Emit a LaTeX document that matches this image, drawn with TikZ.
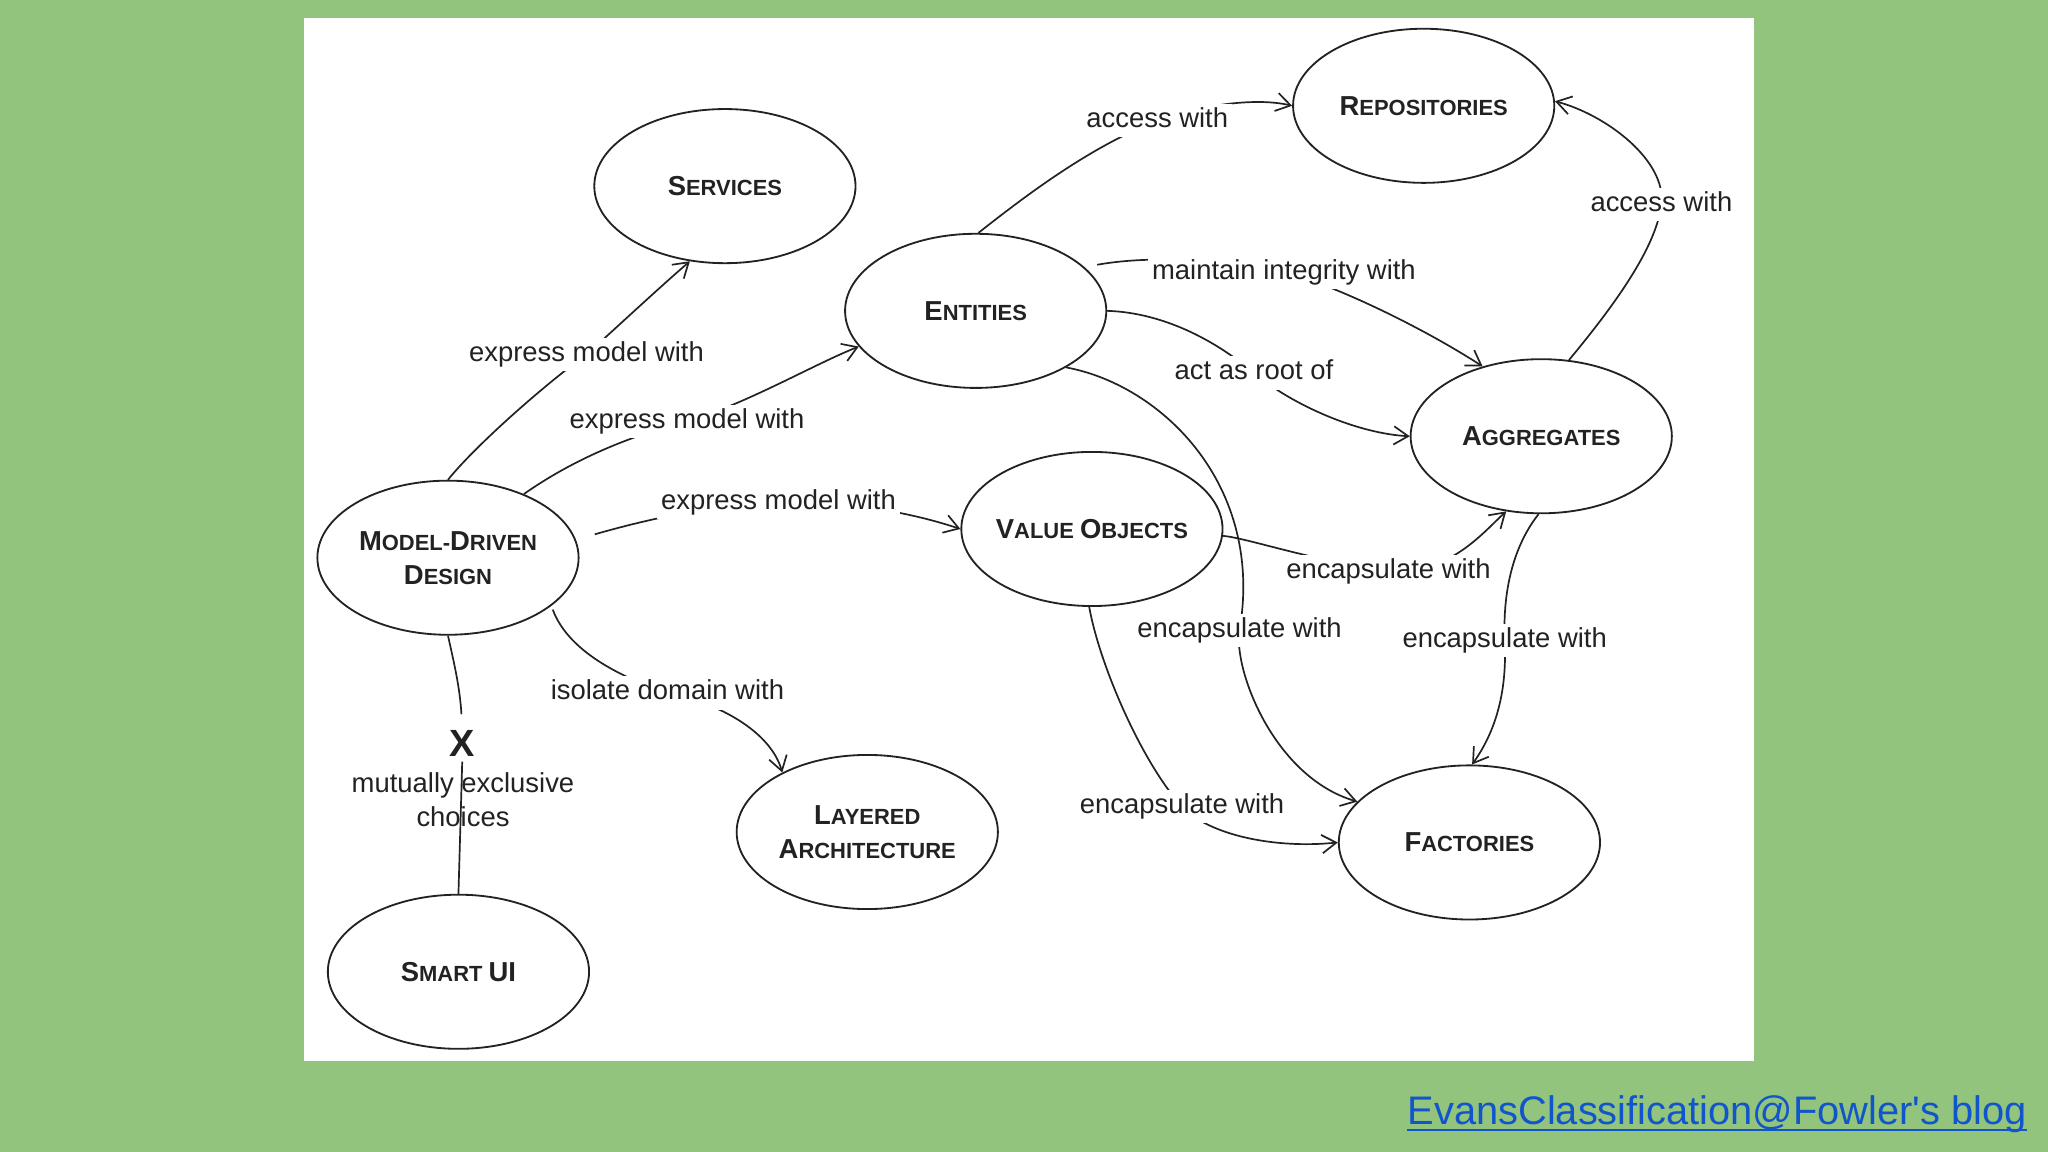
\documentclass[tikz,border=0pt]{standalone}
\usepackage{fontspec}
\setmainfont{Liberation Sans}
\newfontfamily\plainsans{Liberation Sans}
\usetikzlibrary{arrows.meta,shapes.geometric}
\definecolor{bggreen}{HTML}{93C47D}
\definecolor{linkblue}{HTML}{1155CC}
\definecolor{ink}{HTML}{222222}
\newcommand{\Sc}[2]{{\fontsize{21}{26}\selectfont #1}{\fontsize{16.8}{26}\selectfont #2}}
\begin{document}
\begin{tikzpicture}[x=1pt,y=-1pt,
  concept/.style={ellipse, draw=ink, line width=1.4pt, minimum width=200pt, minimum height=118pt,
    inner xsep=-8pt, inner ysep=0pt, align=center, font=\bfseries\fontsize{16.8}{26}\selectfont, text=ink},
  lbl/.style={fill=white, inner sep=3pt, text height=15pt, text depth=4.5pt,
    font=\fontsize{21}{26}\selectfont, text=ink},
  conn/.style={draw=ink, line width=1.3pt},
  arr/.style={conn, -{Straight Barb[length=11pt,width=14pt,line width=1.3pt]}}
]
\useasboundingbox (0,0) rectangle (1568,882);
\fill[bggreen] (0,0) rectangle (1568,882);
\fill[white] (233,14) rectangle (1343,812);

% concepts
\node[concept] (services) at (555,142.5) {\Sc{S}{ERVICES}};
\node[concept] (entities) at (747,238) {\Sc{E}{NTITIES}};
\node[concept] (repo) at (1090,81) {\Sc{R}{EPOSITORIES}};
\node[concept] (agg) at (1180,334) {\Sc{A}{GGREGATES}};
\node[concept] (vo) at (836,405) {\Sc{V}{ALUE} \Sc{O}{BJECTS}};
\node[concept] (mdd) at (343,427) {\Sc{M}{ODEL-}\Sc{D}{RIVEN}\\\Sc{D}{ESIGN}};
\node[concept] (layered) at (664,637) {\Sc{L}{AYERED}\\\Sc{A}{RCHITECTURE}};
\node[concept] (fac) at (1125,645) {\Sc{F}{ACTORIES}};
\node[concept] (smart) at (351,744) {\Sc{S}{MART} \Sc{UI}{}};

% label positions
\coordinate (l1) at (449,271.5);
\coordinate (l2) at (526,322.5);
\coordinate (l3) at (596,384.5);
\coordinate (l4) at (511,530.5);
\coordinate (l5) at (886,92.5);
\coordinate (l6) at (1272,156.5);
\coordinate (l7) at (983,208.5);
\coordinate (l8) at (960,285.5);
\coordinate (l9) at (1063,437.5);
\coordinate (l10) at (949,482.5);
\coordinate (l11) at (1152,490.5);
\coordinate (l12) at (905,617.5);

% connectors
\draw[arr] (mdd.90) .. controls (365,340) and (420,292) .. (l1) .. controls (475,248) and (505,220) .. (services.245);
\draw[arr] (mdd.40) .. controls (430,358) and (470,337) .. (l2) .. controls (570,310) and (625,278) .. (entities.197);
\draw[arr, shorten <=15pt] (mdd.8) .. controls (480,402) and (540,386) .. (l3) .. controls (660,384) and (705,395) .. (vo.180);
\draw[arr, shorten <=3pt] (mdd.-25) .. controls (430,485) and (450,510) .. (l4) .. controls (550,538) and (590,560) .. (layered.145);
\draw[arr] (entities.88) .. controls (785,150) and (835,112) .. (l5) .. controls (915,81.4) and (960,74) .. (repo.180);
\draw[arr] (agg.70) .. controls (1235,235) and (1268,190) .. (l6) .. controls (1276,123) and (1230,88) .. (repo.2);
\draw[arr, shorten <=10pt] (entities.22) .. controls (850,201) and (900,192) .. (l7) .. controls (1010,214) and (1080,245) .. (agg.130);
\draw[arr] (entities.0) .. controls (880,239) and (920,252) .. (l8) .. controls (990,310.6) and (1040,332) .. (agg.180);
\draw[arr] (vo.-3) .. controls (955,412) and (1000,428) .. (l9) .. controls (1110,440) and (1135,408) .. (agg.245);
\draw[arr] (entities.-32) .. controls (890,295) and (968,372) .. (l10) .. controls (944,512) and (975,595) .. (fac.160);
\draw[arr] (agg.268) .. controls (1165,410) and (1150,440) .. (l11) .. controls (1154,530) and (1145,560) .. (fac.88);
\draw[arr] (vo.268) .. controls (842,510) and (875,585) .. (l12) .. controls (925,639) and (975,650) .. (fac.180);

% mutually exclusive
\node[font=\bfseries\fontsize{29}{30}\selectfont, text=ink, inner sep=0pt] (xmark) at (354,569) {X};
\node[font=\fontsize{21}{26}\selectfont, text=ink, align=center, anchor=north, inner sep=0pt] (excl) at (354.5,591) {mutually exclusive\\choices};
\draw[conn, shorten >=12pt] (mdd.270) .. controls (347,505) and (352,525) .. (xmark.north);
\draw[conn, shorten <=4pt] (xmark.south) -- (smart.north);

% labels
\node[lbl] (t1) at (l1) {express model with};
\node[lbl] (t2) at (l2) {express model with};
\node[lbl] (t3) at (l3) {express model with};
\node[lbl] (t4) at (l4) {isolate domain with};
\node[lbl] (t5) at (l5) {access with};
\node[lbl] (t6) at (l6) {access with};
\node[lbl] (t7) at (l7) {maintain integrity with};
\node[lbl] (t8) at (l8) {act as root of};
\node[lbl] (t9) at (l9) {encapsulate with};
\node[lbl] (t10) at (l10) {encapsulate with};
\node[lbl] (t11) at (l11) {encapsulate with};
\node[lbl] (t12) at (l12) {encapsulate with};

% link
\node[font=\plainsans\fontsize{30.5}{36}\selectfont, text=linkblue, anchor=base east, inner sep=0pt] (link) at (1552,861) {EvansClassification@Fowler's blog};
\draw[linkblue, line width=1.6pt] ([yshift=-4pt]link.base west) -- ([yshift=-4pt]link.base east);
\end{tikzpicture}
\end{document}
